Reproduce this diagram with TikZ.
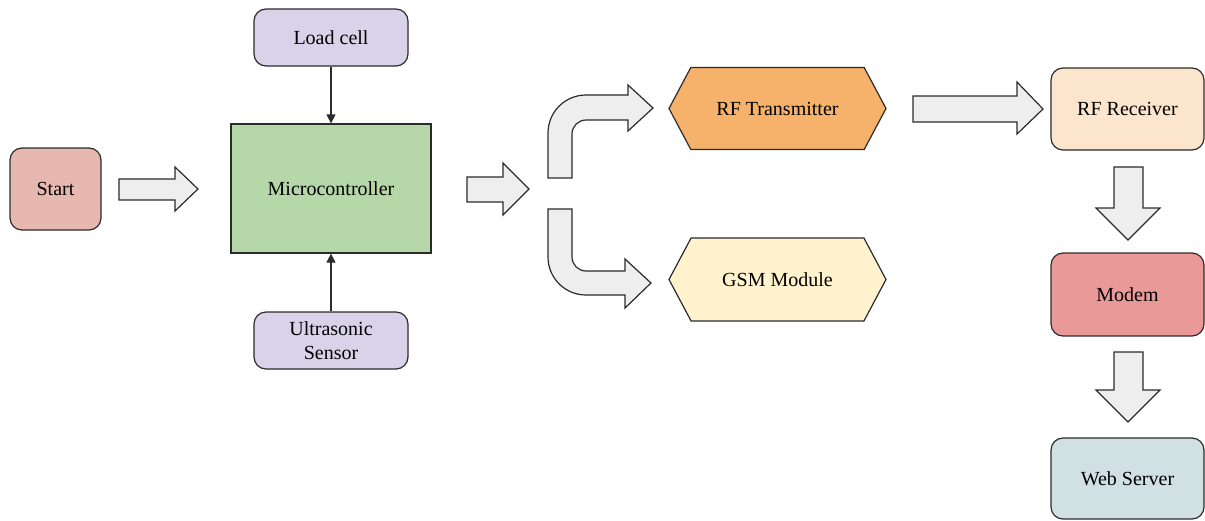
\documentclass[tikz,border=0pt]{standalone}
\usepackage{fontspec}
\setmainfont{Liberation Serif}
\usepackage{tikz}
\usetikzlibrary{shapes.symbols, arrows.meta}
\usepackage{xcolor}

\definecolor{startred}{HTML}{E6B8AF}
\definecolor{mcugreen}{HTML}{B6D7A8}
\definecolor{sensorlilac}{HTML}{D9D2E9}
\definecolor{txorange}{HTML}{F6B26B}
\definecolor{gsmyellow}{HTML}{FFF2CC}
\definecolor{rxpeach}{HTML}{FCE5CD}
\definecolor{modemred}{HTML}{EA9999}
\definecolor{webblue}{HTML}{D0E0E3}
\definecolor{fatgray}{HTML}{EEEEEE}
\definecolor{edgegray}{HTML}{2B2B2B}

\begin{document}
\begin{tikzpicture}[
  x=0.5pt, y=-0.5pt,
  box/.style={rectangle, draw=edgegray, line width=0.6pt, rounded corners=6pt, inner sep=1pt, align=center, font=\normalsize},
  mcu/.style={rectangle, draw=edgegray, line width=0.6pt, inner sep=1pt, align=center},
  hexbox/.style={signal, signal to=west and east, signal pointer angle=124, draw=edgegray, line width=0.6pt, inner sep=1pt, align=center},
  fatarrow/.style={draw=edgegray, line width=0.6pt, fill=fatgray, line join=miter},
  arrow/.style={-{Triangle[length=4.5pt, width=4.5pt]}, line width=0.6pt, draw=edgegray}
]
  \useasboundingbox (0,0) rectangle (1205,520);

  % Start and microcontroller
  \node[box, fill=startred, minimum width=45.5pt, minimum height=41pt] (start) at (55.5,189) {Start};
  \node[mcu, fill=mcugreen, minimum width=100pt, minimum height=64.5pt] (micro) at (331,188.5) {Microcontroller};

  % Sensors
  \node[box, fill=sensorlilac, minimum width=77pt, minimum height=28.5pt] (load) at (331,37.5) {Load cell};
  \node[box, fill=sensorlilac, minimum width=77pt, minimum height=28.5pt] (ultra) at (331,340.5) {Ultrasonic\\Sensor};

  % Transmission side
  \node[hexbox, fill=txorange, minimum width=108.5pt, minimum height=41pt] (rftx) at (777.5,108.5) {RF Transmitter};
  \node[hexbox, fill=gsmyellow, minimum width=108.5pt, minimum height=41.5pt] (gsm) at (777.5,279.5) {GSM Module};

  % Receiver chain
  \node[box, fill=rxpeach, minimum width=76.5pt, minimum height=41pt] (rfrx) at (1127.5,109) {RF Receiver};
  \node[box, fill=modemred, minimum width=76.5pt, minimum height=41.5pt] (modem) at (1127.5,294.5) {Modem};
  \node[box, fill=webblue, minimum width=76.5pt, minimum height=40.5pt] (web) at (1127.5,478.5) {Web Server};

  % Sensor inputs
  \draw[arrow] (load) -- (micro);
  \draw[arrow] (ultra) -- (micro);

  % Block arrows
  \draw[fatarrow] (119,179) -- (175,179) -- (175,167) -- (198,189) -- (175,211) -- (175,200) -- (119,200) -- cycle;
  \draw[fatarrow] (467,177) -- (503,177) -- (503,163) -- (529,189) -- (503,215) -- (503,202) -- (467,202) -- cycle;

  % Bent arrow up to RF transmitter
  \draw[fatarrow] (548,178) -- (548,133) .. controls (548,112) and (565,95) .. (586,95)
    -- (628,95) -- (628,85) -- (653,108) -- (628,131) -- (628,120) -- (586,120)
    .. controls (578.3,120) and (572,126.3) .. (572,134) -- (572,178) -- cycle;

  % Bent arrow down to GSM module
  \draw[fatarrow] (548,209) -- (548,257) .. controls (548,278) and (565,295) .. (586,295)
    -- (625,295) -- (625,308) -- (651,283) -- (625,259) -- (625,271) -- (586,271)
    .. controls (578.3,271) and (572,264.7) .. (572,257) -- (572,209) -- cycle;

  \draw[fatarrow] (913,96) -- (1017,96) -- (1017,82) -- (1043,109) -- (1017,134) -- (1017,122) -- (913,122) -- cycle;

  \draw[fatarrow] (1114,167) -- (1114,208) -- (1096,208) -- (1128,240) -- (1160,208) -- (1143,208) -- (1143,167) -- cycle;
  \draw[fatarrow] (1114,352) -- (1114,390) -- (1096,390) -- (1128,422) -- (1160,390) -- (1143,390) -- (1143,352) -- cycle;
\end{tikzpicture}
\end{document}
